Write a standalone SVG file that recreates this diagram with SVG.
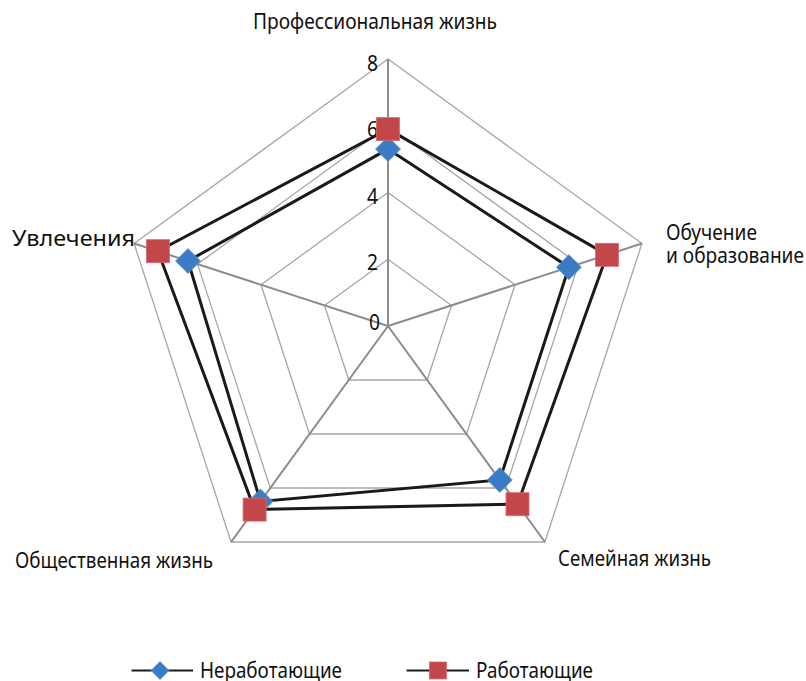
<svg xmlns="http://www.w3.org/2000/svg" width="806" height="681" viewBox="0 0 806 681">
<style>
.ring{fill:none;stroke:#a6a6a6;stroke-width:1.3}
.axis{stroke:#8c8c8c;stroke-width:2}
.series{fill:none;stroke:#1a1a1a;stroke-width:3;stroke-linejoin:miter}
.blue{fill:#3a7cc4;stroke:#5a93d0;stroke-width:0.8}
.red{fill:#c3474a;stroke:#d66a6c;stroke-width:0.8}
text{font-family:"Noto Sans","Open Sans","DejaVu Sans",sans-serif;font-size:22px;fill:#111}
.tick{text-anchor:end;font-size:21px}
</style>
<defs>
<path id="dia" d="M0,-12.5 L12.5,0 L0,12.5 L-12.5,0 Z"/>
<rect id="sq" x="-11.5" y="-11.5" width="23" height="23"/>
</defs>
<g id="grid">
<polygon class="ring" points="388,259.25 451.5,305.4 427.2,380 348.8,380 324.5,305.4"/>
<polygon class="ring" points="388,192.5 515,284.75 466.5,434 309.5,434 261,284.75"/>
<polygon class="ring" points="388,125.75 578.5,264.1 505.7,488 270.3,488 197.5,264.1"/>
<polygon class="ring" points="388,59 641.9,243.5 544.9,542 231.1,542 134.1,243.5"/>
</g>
<g id="axes">
<line class="axis" x1="388" y1="326" x2="388" y2="59"/>
<line class="axis" x1="388" y1="326" x2="641.9" y2="243.5"/>
<line class="axis" x1="388" y1="326" x2="544.9" y2="542"/>
<line class="axis" x1="388" y1="326" x2="231.1" y2="542"/>
<line class="axis" x1="388" y1="326" x2="134.1" y2="243.5"/>
</g>
<g id="ticks">
<text class="tick" x="378" y="70.5" textLength="11" lengthAdjust="spacingAndGlyphs">8</text>
<text class="tick" x="378" y="137" textLength="11" lengthAdjust="spacingAndGlyphs">6</text>
<text class="tick" x="378" y="204" textLength="11" lengthAdjust="spacingAndGlyphs">4</text>
<text class="tick" x="378" y="270" textLength="11" lengthAdjust="spacingAndGlyphs">2</text>
<text class="tick" x="380" y="330" textLength="11" lengthAdjust="spacingAndGlyphs">0</text>
</g>
<g id="connectors">
<polygon id="line-nerab" class="series" points="388,149.1 568.9,267.2 499.8,479.9 260.5,501.5 188,261"/>
<polygon id="line-rab" class="series" points="388,129.1 607,254.8 517.5,504.2 254.6,509.6 157.9,251.2"/>
</g>
<g id="series-nerab">
<use href="#dia" class="blue" x="388" y="149.1"/>
<use href="#dia" class="blue" x="568.9" y="267.2"/>
<use href="#dia" class="blue" x="499.8" y="479.9"/>
<use href="#dia" class="blue" x="260.5" y="501.5"/>
<use href="#dia" class="blue" x="188" y="261"/>
</g>
<g id="series-rab">
<use href="#sq" class="red" x="388" y="129.1"/>
<use href="#sq" class="red" x="607" y="254.8"/>
<use href="#sq" class="red" x="517.5" y="504.2"/>
<use href="#sq" class="red" x="254.6" y="509.6"/>
<use href="#sq" class="red" x="157.9" y="251.2"/>
</g>
<g id="label-prof"><text x="253" y="29" textLength="244" lengthAdjust="spacingAndGlyphs">Профессиональная жизнь</text></g>
<g id="label-obuch">
<text x="666" y="240" textLength="91" lengthAdjust="spacingAndGlyphs">Обучение</text>
<text x="666" y="263" textLength="138" lengthAdjust="spacingAndGlyphs">и образование</text>
</g>
<g id="label-uvl"><text x="12" y="246" textLength="123" lengthAdjust="spacingAndGlyphs">Увлечения</text></g>
<g id="label-obsh"><text x="15" y="568" textLength="198" lengthAdjust="spacingAndGlyphs">Общественная жизнь</text></g>
<g id="label-sem"><text x="558" y="566" textLength="153" lengthAdjust="spacingAndGlyphs">Семейная жизнь</text></g>
<g id="legend">
<line x1="131.5" y1="670.5" x2="193" y2="670.5" stroke="#1a1a1a" stroke-width="2"/>
<path d="M160,661.5 L169,670.5 L160,679.5 L151,670.5 Z" class="blue"/>
<text x="200" y="677.5" textLength="142" lengthAdjust="spacingAndGlyphs">Неработающие</text>
<line x1="406.5" y1="670.5" x2="469" y2="670.5" stroke="#1a1a1a" stroke-width="2"/>
<rect x="429.5" y="662" width="17" height="17" class="red"/>
<text x="476" y="677.5" textLength="117" lengthAdjust="spacingAndGlyphs">Работающие</text>
</g>
</svg>
